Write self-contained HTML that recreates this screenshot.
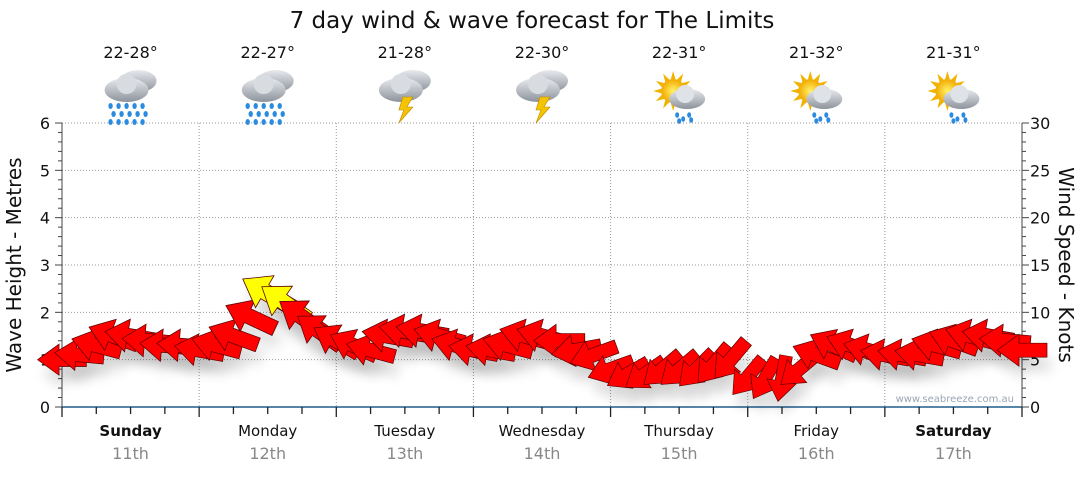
<!DOCTYPE html>
<html><head><meta charset="utf-8"><style>
body{margin:0;background:#fff;font-family:"DejaVu Sans",sans-serif;}
svg text{font-family:"DejaVu Sans",sans-serif;}
</style></head><body>
<svg id="c" width="1080" height="475" viewBox="0 0 1080 475" xmlns="http://www.w3.org/2000/svg">
<defs>
<filter id="sh" x="-50%" y="-50%" width="200%" height="200%"><feGaussianBlur stdDeviation="6"/></filter>
<radialGradient id="sun"><stop offset="0" stop-color="#fff36a"/><stop offset="1" stop-color="#f2a900"/></radialGradient>
<linearGradient id="cl" x1="0" y1="0" x2="0" y2="1"><stop offset="0" stop-color="#e8eaee"/><stop offset="1" stop-color="#8d939c"/></linearGradient>
</defs>
<text x="532" y="28" text-anchor="middle" font-size="23" fill="#111">7 day wind &amp; wave forecast for The Limits</text>
<g id="grid"></g>
<g id="icons"></g>
<g id="shadows"></g>
<g id="arrows"></g>
<text x="1014" y="402" text-anchor="end" font-size="10" fill="#9aa5b5">www.seabreeze.com.au</text>
<text transform="translate(21,265) rotate(-90)" text-anchor="middle" font-size="20" fill="#111">Wave Height - Metres</text>
<text transform="translate(1059,265) rotate(90)" text-anchor="middle" font-size="20" fill="#111">Wind Speed - Knots</text>
</svg>
<script>
const days=["Sunday","Monday","Tuesday","Wednesday","Thursday","Friday","Saturday"];
const dates=["11th","12th","13th","14th","15th","16th","17th"];
const temps=["22-28°","22-27°","21-28°","22-30°","22-31°","21-32°","21-31°"];
const icons=["rain","rain","storm","storm","sunshower","sunshower","sunshower"];
const waveTicks=[0,1,2,3,4,5,6];
const windTicks=[0,5,10,15,20,25,30];
const windSpeed=[5,5.5,6.5,7.5,7.5,7,6.5,6.5, 6,6.5,7.5,9.5,12,11,9.5,8, 7,6.5,6,7.5,8,8,7.5,6.5, 6,6,6.5,7.5,7.5,7,6,5.5, 4,3.5,3.5,4,4,4,4.5,5, 3.2,3,3,4,5.5,6.5,6.5,6, 5.5,5.5,5.5,6.5,7,7.5,7.5,7,6];
const windDir=[180,185,195,200,190,185,185,185, 190,195,200,205,210,215,215,215, 210,205,195,190,190,190,195,195, 190,190,195,195,195,180,170,160, 160,150,145,140,140,135,130,130, 130,120,100,140,200,205,200,195, 190,190,190,195,200,195,190,185,180];
const NS="http://www.w3.org/2000/svg";
const X0=62,X1=1022,Y0=407,Y1=123;
const dayW=(X1-X0)/7;
const xT=i=>X0+i*(X1-X0)/(windSpeed.length-1);
const yW=v=>Y0-v/6*(Y0-Y1);
const yK=v=>Y0-v/30*(Y0-Y1);
function mk(tag,attrs,parent){const e=document.createElementNS(NS,tag);for(const k in attrs)e.setAttribute(k,attrs[k]);parent.appendChild(e);return e;}
const g=document.getElementById('grid');
waveTicks.forEach((v,i)=>{
  if(v>0){const l=mk('line',{x1:X0,x2:X1,y1:yW(v),y2:yW(v),stroke:'#999','stroke-dasharray':'1,2'},g);
  
  }
  const t=mk('text',{x:50,y:yW(v)+6,'text-anchor':'end','font-size':16,fill:'#111'},g);t.textContent=v;
  
  
});
windTicks.forEach(v=>{
  const t=mk('text',{x:1030,y:yK(v)+6,'font-size':16,fill:'#111'},g);t.textContent=v;
  
  
});
for(let k=0;k<=30;k++){mk('line',{x1:X0-(k%5?4:7),x2:X0,y1:Y0-k*(Y0-Y1)/30,y2:Y0-k*(Y0-Y1)/30,stroke:'#444'},g);
 mk('line',{x1:X1,x2:X1+(k%5?4:7),y1:Y0-k*(Y0-Y1)/30,y2:Y0-k*(Y0-Y1)/30,stroke:'#444'},g);}
mk('line',{x1:X0,x2:X0,y1:Y1,y2:Y0,stroke:'#444'},g);
mk('line',{x1:X1,x2:X1,y1:Y1,y2:Y0,stroke:'#444'},g);
const ax=mk('line',{x1:X0,x2:X1,y1:Y0,y2:Y0,stroke:'#1f5d8c','stroke-width':1.5},g);


for(let k=0;k<=28;k++){const x=X0+k*dayW/4;mk('line',{x1:x,x2:x,y1:Y0,y2:Y0+(k%4?7:10),stroke:'#222','stroke-width':1.3},g);}
days.forEach((d,i)=>{
  if(i>0){const l=mk('line',{x1:X0+i*dayW,x2:X0+i*dayW,y1:Y1,y2:Y0,stroke:'#999','stroke-dasharray':'1,2'},g);
  
  }
  const cx=X0+(i+0.5)*dayW;
  const t=mk('text',{x:cx,y:436,'text-anchor':'middle','font-size':15,fill:'#111','font-weight':(i==0||i==6)?'bold':'normal'},g);t.textContent=d;
  
  
  const t2=mk('text',{x:cx,y:459,'text-anchor':'middle','font-size':16,fill:'#888'},g);t2.textContent=dates[i];
  
  
  const t3=mk('text',{x:cx,y:58,'text-anchor':'middle','font-size':16,fill:'#111'},g);t3.textContent=temps[i];
  
  
  const ic=mk('g',{transform:`translate(${cx},95)`},document.getElementById('icons'));
  
  
  const type=icons[i];
  if(type=='sunshower'){
    for(let a=0;a<12;a++){const r=a*30*Math.PI/180;mk('polygon',{points:`${-6+20*Math.cos(r)},${-4+20*Math.sin(r)} ${-6+12*Math.cos(r+0.2)},${-4+12*Math.sin(r+0.2)} ${-6+12*Math.cos(r-0.2)},${-4+12*Math.sin(r-0.2)}`,fill:'#f0b400'},ic);}
    mk('circle',{cx:-6,cy:-4,r:12,fill:'url(#sun)'},ic);
    mk('ellipse',{cx:8,cy:4,rx:18,ry:10,fill:'url(#cl)'},ic);
    mk('circle',{cx:6,cy:-1,r:9,fill:'#dfe2e6'},ic);
    [[-2,20],[4,24],[10,20],[0,26],[12,25]].forEach(p=>mk('ellipse',{cx:p[0],cy:p[1],rx:2,ry:2.8,fill:'#2a8be0'},ic));
  } else {
    mk('ellipse',{cx:8,cy:-14,rx:18,ry:11,fill:'url(#cl)'},ic);
    mk('ellipse',{cx:-4,cy:-5,rx:22,ry:12,fill:'url(#cl)'},ic);
    mk('circle',{cx:-4,cy:-11,r:10,fill:'#d8dbe0'},ic);
    if(type=='rain'){for(let r=0;r<3;r++)for(let c=0;c<5;c++)mk('ellipse',{cx:-20+c*8+(r%2)*3,cy:11+r*8,rx:2.2,ry:3,fill:'#2a8be0'},ic);}
    else{mk('polygon',{points:'-2,2 8,2 2,12 8,12 -6,28 -1,15 -6,15',fill:'#f5c400',stroke:'#c08800','stroke-width':0.6},ic);}
  }
});
const A=document.getElementById('arrows'),S=document.getElementById('shadows');
windSpeed.forEach((v,i)=>{
  const x=xT(i),y=yK(v),s=0.85+v/40;
  const pts="25,0 3,-16 3,-7 -25,-7 -25,7 3,7 3,16";
  const sh=mk('polygon',{points:pts,fill:'#000',opacity:0.12,filter:'url(#sh)',transform:`translate(${x+4},${y+14}) rotate(${windDir[i]}) scale(${s})`},S);
  
  
  const p=mk('polygon',{points:pts,fill:v>=11?'#ffff00':'#ff0000',stroke:'#5a0000','stroke-width':0.7,transform:`translate(${x},${y}) rotate(${windDir[i]}) scale(${s})`},A);
  
  
});
</script>
</body></html>
